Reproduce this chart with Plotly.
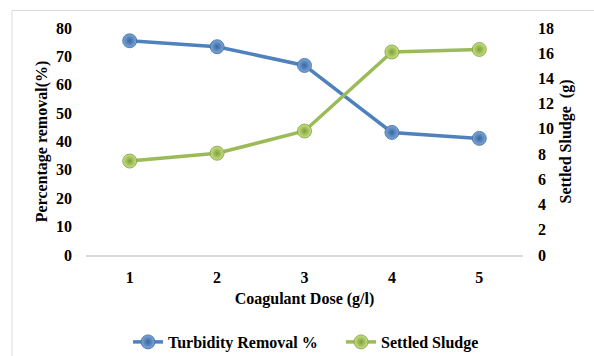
import plotly.graph_objects as go

# Coagulant dose (g/l) and the two measured responses
dose = [1, 2, 3, 4, 5]
turbidity_removal = [75.5, 73.4, 66.8, 43.2, 41.1]   # %
settled_sludge = [7.45, 8.07, 9.83, 16.1, 16.3]      # g

dose_labels = ["1", "2", "3", "4", "5"]
left_ticks = [0, 10, 20, 30, 40, 50, 60, 70, 80]
right_ticks = [0, 2, 4, 6, 8, 10, 12, 14, 16, 18]

FONT = "Liberation Serif"
BLUE = "#4F81BD"
GREEN = "#9BBB59"

fig = go.Figure()

fig.add_trace(go.Scatter(
    x=dose, y=turbidity_removal, name="Turbidity Removal %",
    mode="lines+markers", legend="legend",
    line=dict(color=BLUE, width=3.5),
    marker=dict(size=14, color="#7FA8DA",
                gradient=dict(type="radial", color="#3565A0"),
                line=dict(color="#3A6AA5", width=0.8)),
    yaxis="y",
))

fig.add_trace(go.Scatter(
    x=dose, y=settled_sludge, name="Settled Sludge",
    mode="lines+markers", legend="legend2",
    line=dict(color=GREEN, width=3.5),
    marker=dict(size=14, color="#C8E283",
                gradient=dict(type="radial", color="#7E9E38"),
                line=dict(color="#7F9B40", width=0.8)),
    yaxis="y2",
))

bold = dict(family=FONT, size=16, color="black", weight="bold")
legend_style = dict(orientation="h", xanchor="left", xref="container",
                    y=1 - 342 / 356, yanchor="middle", yref="container",
                    font=dict(family=FONT, size=16, color="black", weight="bold"),
                    itemwidth=30, bgcolor="rgba(0,0,0,0)")

fig.update_layout(
    width=594, height=356,
    margin=dict(l=86, r=71, t=28, b=101, autoexpand=False),
    paper_bgcolor="white", plot_bgcolor="white",
    font=dict(family=FONT, size=16, color="black"),
    showlegend=True,
    legend=dict(x=128 / 594, **legend_style),
    legend2=dict(x=341 / 594, **legend_style),
    xaxis=dict(range=[0.5, 5.5], tickvals=dose, ticktext=dose_labels, automargin=False,
               showgrid=False, zeroline=False, showline=True, linecolor="#D9D9D9",
               linewidth=1.5, ticks="", ticklabelstandoff=7,
               tickfont=bold,
               title=dict(text="Coagulant Dose (g/l)", standoff=8, font=bold)),
    yaxis=dict(range=[0, 80], tickvals=left_ticks, showgrid=False, zeroline=False,
               showline=False, ticks="", ticklabelstandoff=13, automargin=False,
               tickfont=bold,
               title=dict(text="Percentage removal(%)", standoff=4, font=bold)),
    yaxis2=dict(range=[0, 18], tickvals=right_ticks, overlaying="y", side="right",
                showgrid=False, zeroline=False, showline=False, ticks="",
                ticklabelstandoff=14, automargin=False,
                tickfont=bold,
                title=dict(text="Settled Sludge  (g)", standoff=6, font=bold)),
    shapes=[dict(type="rect", xref="paper", yref="paper",
                 x0=(12 - 86) / 437, x1=(640 - 86) / 437,
                 y0=(255 - 400) / 227, y1=(255 - 10.5) / 227,
                 line=dict(color="#D9D9D9", width=1), layer="below")],
)

fig.write_html("out.html")
